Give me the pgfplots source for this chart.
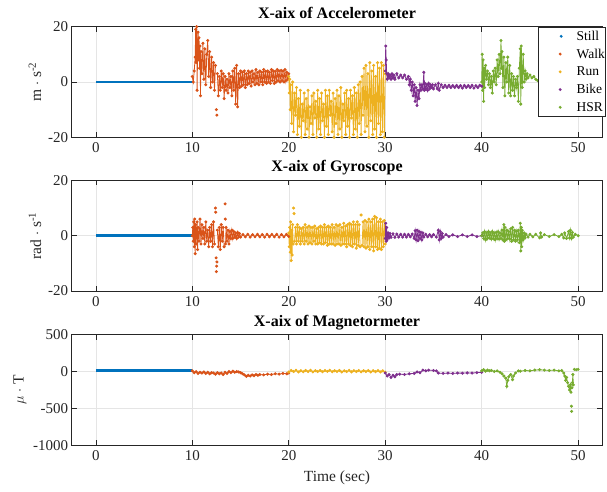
\documentclass[border=0pt]{standalone}
\usepackage{fontspec}
\setmainfont{Liberation Serif}
\usepackage{pgfplots}
\pgfplotsset{compat=1.18}

\definecolor{cStill}{rgb}{0,0.447,0.741}
\definecolor{cWalk}{rgb}{0.85,0.325,0.098}
\definecolor{cRun}{rgb}{0.929,0.694,0.125}
\definecolor{cBike}{rgb}{0.494,0.184,0.556}
\definecolor{cHSR}{rgb}{0.466,0.674,0.188}

\pgfplotsset{
  sens/.style={
    scale only axis, width=530.6pt, height=110.6pt,
    xmin=-2.5, xmax=52.5, xtick={0,10,...,50},
    grid=major, major grid style={black!10, line width=0.5pt},
    axis line style={black!85, line width=0.6pt},
    tick align=inside, major tick length=5pt, tick style={black!85, line width=0.6pt},
    ticklabel style={font=\fontsize{15}{15}\selectfont, text=black!85},
    xticklabel style={yshift=-2pt},
    /pgf/number format/assume math mode=true,
    /pgf/number format/1000 sep={},
    title style={font=\bfseries\fontsize{16}{16}\selectfont, at={(0.5,1)}, anchor=base, yshift=2.5pt},
    label style={font=\fontsize{15.5}{15.5}\selectfont, text=black!85},
    xlabel style={yshift=-3pt},
    unbounded coords=jump,
    legend image code/.code={\path (0pt,0pt) (36pt,0pt); \node[circle, fill, draw=none, inner sep=0pt, minimum size=3.2pt] at (19pt,0pt) {};},
  },
  dots/.style={line width=0.8pt, mark=*, mark size=1.1pt},
  still/.style={color=cStill, line width=2.8pt, mark=none},
}

\begin{document}
\begin{tikzpicture}
\useasboundingbox (0,0) rectangle (607pt,491pt);

% ---------------- accelerometer
\begin{axis}[sens, at={(71.7pt,353.7pt)}, anchor=south west,
  ymin=-20, ymax=20, ytick={-20,0,20},
  title={X-aix of Accelerometer}, ylabel={m $\cdot$ s\textsuperscript{-2}},
  legend style={at={(1,1)}, anchor=north east, xshift=2.7pt, draw=black!85, line width=0.5pt,
    font=\fontsize{13.5}{13.5}\selectfont, inner xsep=0pt, inner ysep=0.5pt, row sep=0pt,
    nodes={inner sep=0pt, minimum height=17.75pt}},
  legend cell align=left]
\addplot[still] coordinates {(0,0)(1,0)(2,0)(3,0)(4,0)(5,0)(6,0)(7,0)(8,0)(9,0)(10,0)};
\addlegendentry{Still}
\addplot[dots, color=cWalk] coordinates {
(10.0,2)(10.1,0)(10.2,4)(10.3,9)(10.35,19)(10.4,7)(10.45,20)(10.5,-3)(10.55,12)(10.6,18)
(10.65,8)(10.7,16)(10.75,5)(10.8,13)(10.85,-5)(10.9,11)(11.0,3)(11.1,14)(11.2,1)(11.3,12)
(11.4,-1)(11.5,10)(11.6,15)(11.7,2)(11.8,11)(11.9,-2)(12.0,9)(12.1,0)(12.2,7)(12.3,-3)
(12.4,6)(12.45,nan)(12.5,-10)(12.52,nan)(12.55,-12)(12.57,nan)(12.6,3)(12.7,-5)(12.8,2)(12.9,-3)
(13.0,4)(13.1,-2)(13.2,3)(13.3,-6)(13.4,2)(13.5,-3)(13.6,1)(13.7,-4)(13.8,3)(13.9,-2)
(14.0,2)(14.1,-5)(14.2,4)(14.3,-3)(14.4,5)(14.5,-8)(14.6,6)(14.7,-9)(14.8,3)(14.9,-2)
(15.0,4)(15.1,-1.5)(15.2,3.5)(15.3,-1)(15.4,4)(15.5,-2)(15.6,3)(15.7,-1)(15.8,4)(15.9,-0.5)
(16.0,3.5)(16.1,-1.5)(16.2,4)(16.3,0)(16.4,3)(16.5,-1)(16.6,4.5)(16.7,-0.5)(16.8,3.5)(16.9,-1)
(17.0,4)(17.1,0)(17.2,3.5)(17.3,-1)(17.4,4.5)(17.5,0)(17.6,3.8)(17.7,-0.5)(17.8,4)(17.9,0)
(18.0,3.5)(18.1,-0.5)(18.2,4.5)(18.3,0.5)(18.4,4)(18.5,-0.5)(18.6,3.8)(18.7,0)(18.8,4.5)(18.9,0.5)
(19.0,4)(19.1,0)(19.2,4.2)(19.3,0.5)(19.4,4)(19.5,0)(19.6,4.5)(19.7,0.5)(19.8,3.5)(19.9,1)(20.0,3)};
\addlegendentry{Walk}
\addplot[dots, color=cRun] coordinates {
(20.0,2)(20.05,-4)(20.1,1)(20.15,-10)(20.2,-1)(20.3,-15)(20.4,0)(20.5,-18)(20.6,-4)(20.7,-12)
(20.8,-2)(20.9,-19)(21.0,-6)(21.1,-16)(21.2,-3)(21.3,-20)(21.4,-8)(21.5,-14)(21.6,-4)(21.7,-19)
(21.8,-6)(21.9,-17)(22.0,-3)(22.1,-20)(22.2,-9)(22.3,-15)(22.4,-5)(22.5,-19)(22.6,-4)(22.7,-13)
(22.8,-7)(22.9,-20)(23.0,-3)(23.1,-17)(23.2,-6)(23.3,-19)(23.4,-4)(23.5,-14)(23.6,-8)(23.7,-20)
(23.8,-3)(23.9,-16)(24.0,-5)(24.1,-19)(24.2,-3)(24.3,-12)(24.4,-7)(24.5,-18)(24.6,-4)(24.7,-20)
(24.8,-6)(24.9,-15)(25.0,-3)(25.1,-19)(25.2,-5)(25.3,-17)(25.4,-2)(25.5,-20)(25.6,-8)(25.7,-14)
(25.8,-4)(25.9,-19)(26.0,-3)(26.1,-16)(26.2,-6)(26.3,-20)(26.4,-3)(26.5,-13)(26.6,-5)(26.7,-19)
(26.8,-2)(26.9,-17)(27.0,-4)(27.1,-20)(27.2,-1)(27.3,-15)(27.4,0)(27.5,-19)(27.6,2)(27.7,-12)
(27.8,5)(27.9,-18)(28.0,6)(28.1,-16)(28.2,3)(28.3,-20)(28.4,7)(28.5,-14)(28.6,4)(28.7,-19)
(28.8,6)(28.9,-17)(29.0,2)(29.1,-20)(29.2,7)(29.3,-15)(29.4,5)(29.5,-19)(29.6,7)(29.7,-18)
(29.8,6)(29.9,-20)(30.0,3)};
\addlegendentry{Run}
\addplot[dots, color=cBike] coordinates {
(30.0,4)(30.05,13)(30.1,8)(30.15,3)(30.2,1)(30.3,3)(30.4,1.5)(30.5,2.5)(30.6,1)(30.7,3)
(30.8,1.5)(30.9,2.5)(31.0,1)(31.2,3)(31.4,1.5)(31.6,2.5)(31.8,1.5)(32.0,2.5)(32.2,1)(32.4,2)
(32.5,-1)(32.6,1)(32.7,-3)(32.8,0)(32.9,-5)(33.0,-1)(33.1,-7)(33.2,-2)(33.3,-8.5)(33.4,-3)
(33.5,-6)(33.6,-1)(33.7,-3)(33.8,-1)(33.9,-2.5)(34.0,3.5)(34.05,-3)(34.1,-0.5)(34.2,-2.5)(34.3,-1)
(34.4,-3)(34.5,-0.5)(34.6,-2.5)(34.7,-1)(34.8,-2)(34.9,-1)(35.0,-2.5)(35.2,-1)(35.4,-2.5)(35.5,-0.5)
(35.6,-3)(35.8,-1)(36.0,-2)(36.2,-1.2)(36.4,-2)(36.6,-1.2)(36.8,-2)(37.0,-1.3)(37.2,-2)(37.4,-1.2)
(37.6,-2)(37.8,-1.3)(38.0,-2.2)(38.2,-1.2)(38.4,-2)(38.6,-1.3)(38.8,-2)(39.0,-1.2)(39.2,-2.2)(39.4,-1.3)
(39.6,-2)(39.8,-1.2)(40.0,-1.5)};
\addlegendentry{Bike}
\addplot[dots, color=cHSR] coordinates {
(40.0,0)(40.05,10)(40.1,-3)(40.15,8)(40.2,-7)(40.25,5)(40.3,-2)(40.4,6)(40.5,1)(40.6,4)
(40.7,-1)(40.8,3)(40.9,-2)(41.0,2)(41.1,-4)(41.2,4)(41.3,0)(41.4,5)(41.5,-1)(41.6,8)
(41.7,2)(41.8,10)(41.9,3)(42.0,15)(42.05,5)(42.1,11)(42.2,-2)(42.3,9)(42.4,-5)(42.5,7)
(42.6,0)(42.7,9)(42.8,-4)(42.9,6)(43.0,-5)(43.1,3)(43.2,-3)(43.3,2)(43.4,-5)(43.5,1)
(43.6,-2)(43.7,2)(43.8,-7)(43.9,5)(44.0,12)(44.05,-8)(44.1,13)(44.2,-2)(44.3,10)(44.4,0)
(44.5,4)(44.6,1)(44.7,3)(44.8,1.5)(45.0,2.5)(45.2,1.5)(45.4,2)(45.6,1)(45.8,0.5)(46.0,0)
(46.5,0.3)(47,-0.2)(48,0.2)(49,-0.2)(50,0)};
\addlegendentry{HSR}
\end{axis}

% ---------------- gyroscope
\begin{axis}[sens, at={(71.7pt,200pt)}, anchor=south west,
  ymin=-20, ymax=20, ytick={-20,0,20},
  title={X-aix of Gyroscope}, ylabel={rad $\cdot$ s\textsuperscript{-1}}]
\addplot[still] coordinates {(0,0)(1,0)(2,0)(3,0)(4,0)(5,0)(6,0)(7,0)(8,0)(9,0)(10,0)};
\addplot[dots, color=cWalk] coordinates {
(10.0,0)(10.05,3)(10.1,-2)(10.15,5)(10.2,-4)(10.25,6)(10.3,-6.5)(10.35,4)(10.4,-3)(10.5,5)
(10.55,-5)(10.6,3)(10.7,-2)(10.8,6)(10.9,-3)(11.0,4)(11.1,-1)(11.2,3)(11.3,-3)(11.4,5)
(11.5,-2)(11.6,2)(11.7,-4)(11.8,3)(11.9,-2)(12.0,4)(12.1,-4)(12.2,5)(12.3,-3)(12.35,nan)
(12.4,10)(12.41,nan)(12.42,8.5)(12.43,nan)(12.47,-8)(12.48,nan)(12.5,-13)(12.51,nan)(12.52,-11)(12.53,nan)
(12.55,-9.5)(12.56,nan)(12.6,2)(12.7,-4)(12.8,3)(12.9,-5)(13.0,4)(13.1,-2)(13.2,3)(13.3,-4)
(13.35,nan)(13.4,11.5)(13.41,nan)(13.42,6)(13.43,nan)(13.45,-3)(13.5,3)(13.6,-2)(13.7,2)(13.8,-3)
(13.9,1.5)(14.0,-1)(14.1,2)(14.2,-1)(14.3,1.5)(14.4,-0.5)(14.5,1)(14.6,-1)(14.7,1.2)(14.8,-0.5)
(14.9,0.8)(15.0,-0.5)(15.25,0.4)(15.5,-0.4)(15.75,0.5)(16.0,-0.5)(16.25,0.4)(16.5,-0.4)(16.75,0.5)(17.0,-0.4)
(17.25,0.4)(17.5,-0.5)(17.75,0.5)(18.0,-0.4)(18.25,0.5)(18.5,-0.4)(18.75,0.5)(19.0,-0.5)(19.25,0.4)(19.5,-0.4)
(19.75,0.5)(20.0,-0.3)};
\addplot[dots, color=cRun] coordinates {
(20.0,1)(20.05,-4)(20.1,3)(20.15,-6)(20.2,5)(20.25,-9)(20.3,2)(20.35,-7)(20.4,4)(20.45,-3)
(20.48,nan)(20.5,10)(20.51,nan)(20.55,8)(20.56,nan)(20.6,-2)(20.7,3)(20.8,-3)(20.9,4)(21.0,-2)
(21.1,3)(21.2,-3)(21.3,2.5)(21.4,-2)(21.5,3)(21.6,-3)(21.7,4)(21.8,-2)(21.9,3)(22.0,-3)
(22.1,3.5)(22.2,-2.5)(22.3,3)(22.4,-3)(22.5,3)(22.6,-2)(22.7,3.5)(22.8,-3)(22.9,2.5)(23.0,-3)
(23.1,3)(23.2,-2.5)(23.3,3.5)(23.4,-3)(23.5,3)(23.6,-3)(23.7,4)(23.8,-2.5)(23.9,3)(24.0,-3.5)
(24.1,3.5)(24.2,-3)(24.3,3)(24.4,-3)(24.5,4)(24.6,-3)(24.7,3)(24.8,-3.5)(24.9,4)(25.0,-3)
(25.1,3.5)(25.2,-3)(25.3,4)(25.4,-3.5)(25.5,3)(25.6,-3)(25.7,4.5)(25.8,-3)(25.9,3.5)(26.0,-4)
(26.1,4)(26.2,-3)(26.3,4.5)(26.4,-3.5)(26.5,4)(26.6,-4)(26.7,5)(26.8,-3)(26.9,4)(27.0,-4.5)
(27.1,5)(27.2,-3.5)(27.3,4)(27.4,-4)(27.45,nan)(27.5,7.5)(27.52,nan)(27.6,-3.5)(27.7,5)(27.8,-4)
(27.9,5.5)(28.0,-4.5)(28.1,5)(28.2,-4)(28.3,6)(28.4,-5)(28.5,5)(28.6,-4)(28.7,6)(28.8,-5.5)
(28.9,7)(29.0,-4)(29.1,6.5)(29.2,-5)(29.3,5)(29.4,-4.5)(29.5,6)(29.6,-5)(29.7,5)(29.8,-4)
(29.9,5.5)(30.0,-3)};
\addplot[dots, color=cBike] coordinates {
(30.0,-1)(30.05,4.5)(30.1,-2)(30.15,3)(30.2,-1.5)(30.3,1)(30.4,-0.8)(30.5,0.8)(30.6,-0.6)(30.8,0.7)
(31.0,-0.6)(31.2,0.6)(31.4,-0.5)(31.6,0.5)(31.8,-0.5)(32.0,0.5)(32.2,-0.5)(32.4,0.5)(32.6,-0.4)(32.8,0.6)
(33.0,-1)(33.1,1.8)(33.2,-1.5)(33.3,2)(33.4,-1.8)(33.5,1.5)(33.6,-1)(33.7,1.2)(33.8,-1.5)(33.9,1)
(34.0,-0.5)(34.2,0.5)(34.4,-0.4)(34.6,0.4)(34.8,-0.4)(35.0,0.4)(35.3,-0.5)(35.5,2)(35.6,-1.5)(35.7,1.5)
(35.8,-1)(35.9,0.8)(36.0,-0.5)(36.3,0.4)(36.6,-0.3)(37.0,0.3)(37.5,-0.3)(38.0,0.3)(38.5,-0.3)(39.0,0.3)
(39.5,-0.3)(40.0,0)};
\addplot[dots, color=cHSR] coordinates {
(40.0,0)(40.1,1)(40.2,-1)(40.3,1.5)(40.4,-1.5)(40.5,1)(40.6,-1)(40.7,1.5)(40.8,-0.8)(40.9,1)
(41.0,-1.2)(41.1,1.5)(41.2,-1)(41.3,1)(41.4,-1.5)(41.5,1.2)(41.6,-1)(41.7,1.5)(41.8,-1.2)(41.9,1)
(42.0,-1)(42.1,2)(42.2,-1.5)(42.3,4)(42.35,-2)(42.4,3)(42.5,-1.5)(42.6,2)(42.7,-1)(42.8,1.5)
(42.9,-1.2)(43.0,2.5)(43.1,-2)(43.2,3)(43.3,-1.5)(43.4,2)(43.5,-2)(43.6,1.5)(43.7,-1.5)(43.8,2)
(43.9,-2.5)(44.0,4.5)(44.05,-5.5)(44.1,3)(44.15,-4)(44.2,2)(44.3,-1.5)(44.4,1)(44.5,-0.8)(44.6,0.6)
(44.8,-0.5)(45.0,0.5)(45.3,-0.4)(45.6,0.5)(46.0,-0.8)(46.1,1)(46.2,-0.5)(46.5,0.4)(47.0,-0.3)(47.5,0.4)
(48.0,-0.3)(48.3,0.5)(48.5,-0.8)(48.6,1)(48.8,-1)(49.0,1.5)(49.1,-0.8)(49.2,2)(49.3,-1)(49.4,1.2)
(49.5,-0.5)(49.7,0.5)(50.0,0)};
\end{axis}

% ---------------- magnetometer
\begin{axis}[sens, at={(71.7pt,45.7pt)}, anchor=south west,
  ymin=-1000, ymax=500, ytick={-1000,-500,0,500},
  title={X-aix of Magnetormeter}, ylabel={$\mu$ $\cdot$ T}, xlabel={Time (sec)}]
\addplot[still] coordinates {(0,10)(1,10)(2,10)(3,10)(4,10)(5,10)(6,10)(7,10)(8,10)(9,10)(10,10)};
\addplot[dots, color=cWalk] coordinates {
(10.0,10)(10.2,-15)(10.4,0)(10.6,-25)(10.8,-10)(11.0,-20)(11.2,-5)(11.4,-25)(11.6,-10)(11.8,-30)
(12.0,-15)(12.2,-20)(12.4,-35)(12.6,-15)(12.8,-30)(13.0,-20)(13.2,-40)(13.4,-10)(13.6,-25)(13.8,0)
(14.0,-15)(14.2,5)(14.4,-10)(14.6,0)(14.8,-5)(15.0,-15)(15.2,-30)(15.4,-45)(15.6,-65)(15.8,-50)
(16.0,-60)(16.2,-45)(16.4,-55)(16.6,-40)(16.8,-50)(17.0,-40)(17.4,-45)(17.8,-35)(18.2,-40)(18.6,-30)
(19.0,-35)(19.4,-25)(19.8,-30)(20.0,-20)};
\addplot[dots, color=cRun] coordinates {
(20.0,-5)(20.25,15)(20.5,0)(20.75,18)(21,-5)(21.25,12)(21.5,-2)(21.75,15)(22,0)(22.25,18)
(22.5,-5)(22.75,12)(23,0)(23.25,15)(23.5,-3)(23.75,14)(24,2)(24.25,18)(24.5,-2)(24.75,12)
(25,0)(25.25,15)(25.5,-5)(25.75,12)(26,0)(26.25,16)(26.5,-4)(26.75,13)(27,0)(27.25,15)
(27.5,-3)(27.75,12)(28,0)(28.25,14)(28.5,-5)(28.75,12)(29,-2)(29.25,13)(29.5,-5)(29.75,10)(30,-10)};
\addplot[dots, color=cBike] coordinates {
(30.0,-20)(30.2,-60)(30.4,-40)(30.6,-80)(30.8,-50)(31.0,-70)(31.2,-40)(31.5,-35)(32.0,-40)(32.5,-30)
(33.0,-25)(33.3,-5)(33.6,-15)(33.9,20)(34.2,10)(34.5,20)(35.0,15)(35.3,10)(35.5,-20)(36,-25)
(36.5,-20)(37,-25)(37.5,-20)(38,-22)(38.5,-18)(39,-20)(39.5,-15)(40,-10)};
\addplot[dots, color=cHSR] coordinates {
(40.0,10)(40.2,25)(40.4,5)(40.6,20)(40.8,10)(41.0,15)(41.3,0)(41.6,10)(41.9,-10)(42.1,-30)
(42.3,-60)(42.5,-90)(42.6,-200)(42.7,-120)(42.8,-70)(43.0,-40)(43.2,-110)(43.3,-60)(43.5,-20)(43.8,10)
(44.0,5)(44.5,15)(45.0,10)(45.5,20)(46.0,25)(46.5,20)(47.0,15)(47.5,20)(48.0,10)(48.3,15)
(48.5,-20)(48.6,-60)(48.7,-120)(48.8,-80)(48.9,-150)(49.0,-200)(49.1,-250)(49.2,-180)(49.25,-280)(49.28,nan)
(49.3,-470)(49.31,nan)(49.32,-540)(49.33,nan)(49.35,-220)(49.4,-150)(49.45,-40)(49.5,-180)(49.55,nan)(49.6,30)
(49.8,25)(50.0,30)};
\end{axis}
\end{tikzpicture}
\end{document}
